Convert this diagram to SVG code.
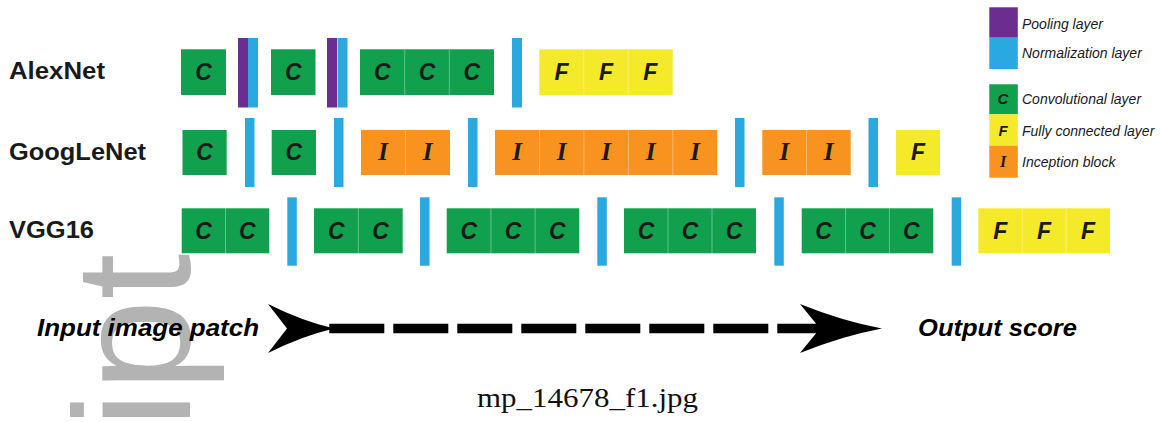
<svg xmlns="http://www.w3.org/2000/svg" width="1160" height="422" viewBox="0 0 1160 422">
<style>
.bg{fill:#ffffff}
.g{fill:#10a04e}
.y{fill:#f5ea2a}
.o{fill:#f7931e}
.b{fill:#29a9e0}
.p{fill:#6b2d8f}
.sep{stroke:#ffffff;stroke-opacity:0.35;stroke-width:1}
.lc{font-family:"Liberation Sans",Arial,sans-serif;font-weight:bold;font-style:italic;font-size:23px;fill:#1a1a1a;text-anchor:middle}
.li{font-family:"Liberation Serif","Times New Roman",serif;font-weight:bold;font-style:italic;font-size:25px;fill:#1a1a1a;text-anchor:middle}
.net{font-family:"Liberation Sans",Arial,sans-serif;font-weight:bold;font-size:24px;fill:#1a1a1a}
.io{font-family:"Liberation Sans",Arial,sans-serif;font-weight:bold;font-style:italic;font-size:24px;fill:#000}
.leg{font-family:"Liberation Sans",Arial,sans-serif;font-style:italic;font-size:14px;fill:#1a1a1a}
.legc{font-family:"Liberation Sans",Arial,sans-serif;font-weight:bold;font-style:italic;font-size:15px;fill:#1a1a1a;text-anchor:middle}
.legi{font-family:"Liberation Serif",serif;font-weight:bold;font-style:italic;font-size:16px;fill:#1a1a1a;text-anchor:middle}
.wm{font-family:"Liberation Sans",Arial,sans-serif;font-size:165px;fill:#b3b3b3}
.cap{font-family:"Liberation Serif","Times New Roman",serif;font-size:27px;fill:#111}
</style>
<rect class="bg" x="0" y="0" width="1160" height="422"/>
<text class="wm" transform="translate(190,428) rotate(-90)">ipt</text>

<g id="labels">
<text class="net" x="9" y="79" textLength="96" lengthAdjust="spacingAndGlyphs">AlexNet</text>
<text class="net" x="9" y="159.5" textLength="137" lengthAdjust="spacingAndGlyphs">GoogLeNet</text>
<text class="net" x="9" y="237.5" textLength="85" lengthAdjust="spacingAndGlyphs">VGG16</text>
</g>

<!-- AlexNet -->
<g id="alex-c1"><rect class="g" x="181" y="49.3" width="45" height="45.7"/><text class="lc" x="203.5" y="80">C</text></g>
<g id="alex-pn1"><rect class="p" x="238" y="38" width="10" height="69.5"/><rect class="b" x="248" y="38" width="10" height="69.5"/></g>
<g id="alex-c2"><rect class="g" x="271" y="49.3" width="44.5" height="45.7"/><text class="lc" x="293.2" y="80">C</text></g>
<g id="alex-pn2"><rect class="p" x="327" y="38" width="10" height="69.5"/><rect class="b" x="337.5" y="38" width="10" height="69.5"/></g>
<g id="alex-c3"><rect class="g" x="360" y="49.3" width="134" height="45.7"/><line class="sep" x1="404.7" y1="49.3" x2="404.7" y2="95"/><line class="sep" x1="449.3" y1="49.3" x2="449.3" y2="95"/><text class="lc" x="382.3" y="80">C</text><text class="lc" x="427" y="80">C</text><text class="lc" x="471.7" y="80">C</text></g>
<g id="alex-n3"><rect class="b" x="512" y="38" width="10" height="69.5"/></g>
<g id="alex-f"><rect class="y" x="539.3" y="49.3" width="133.4" height="45.7"/><line class="sep" x1="583.8" y1="49.3" x2="583.8" y2="95"/><line class="sep" x1="628.2" y1="49.3" x2="628.2" y2="95"/><text class="lc" x="561.5" y="80">F</text><text class="lc" x="606" y="80">F</text><text class="lc" x="650.4" y="80">F</text></g>

<!-- GoogLeNet -->
<g id="goog-c1"><rect class="g" x="182.5" y="130" width="44.2" height="45"/><text class="lc" x="204.6" y="160">C</text></g>
<g id="goog-n1"><rect class="b" x="245" y="118" width="9.5" height="69"/></g>
<g id="goog-c2"><rect class="g" x="271.7" y="130" width="44.3" height="45"/><text class="lc" x="293.8" y="160">C</text></g>
<g id="goog-n2"><rect class="b" x="334" y="118" width="9.5" height="69"/></g>
<g id="goog-i1"><rect class="o" x="361" y="130" width="89" height="45"/><line class="sep" x1="405.5" y1="130" x2="405.5" y2="175"/><text class="li" x="383.2" y="160">I</text><text class="li" x="427.7" y="160">I</text></g>
<g id="goog-n3"><rect class="b" x="468" y="118" width="9.5" height="69"/></g>
<g id="goog-i2"><rect class="o" x="495" y="130" width="222.3" height="45"/><line class="sep" x1="539.5" y1="130" x2="539.5" y2="175"/><line class="sep" x1="583.9" y1="130" x2="583.9" y2="175"/><line class="sep" x1="628.4" y1="130" x2="628.4" y2="175"/><line class="sep" x1="672.8" y1="130" x2="672.8" y2="175"/><text class="li" x="517.2" y="160">I</text><text class="li" x="561.7" y="160">I</text><text class="li" x="606.1" y="160">I</text><text class="li" x="650.6" y="160">I</text><text class="li" x="695" y="160">I</text></g>
<g id="goog-n4"><rect class="b" x="735" y="118" width="9.5" height="69"/></g>
<g id="goog-i3"><rect class="o" x="762.3" y="130" width="88.4" height="45"/><line class="sep" x1="806.5" y1="130" x2="806.5" y2="175"/><text class="li" x="784.4" y="160">I</text><text class="li" x="828.6" y="160">I</text></g>
<g id="goog-n5"><rect class="b" x="868.5" y="118" width="9.5" height="69"/></g>
<g id="goog-f"><rect class="y" x="896" y="130" width="44" height="45"/><text class="lc" x="918" y="160">F</text></g>

<!-- VGG16 -->
<g id="vgg-c1"><rect class="g" x="181.7" y="208.3" width="87.6" height="45"/><line class="sep" x1="225.5" y1="208.3" x2="225.5" y2="253.3"/><text class="lc" x="203.6" y="238.5">C</text><text class="lc" x="247.4" y="238.5">C</text></g>
<g id="vgg-n1"><rect class="b" x="287.3" y="197.3" width="9.5" height="68.4"/></g>
<g id="vgg-c2"><rect class="g" x="314" y="208.3" width="88.7" height="45"/><line class="sep" x1="358.3" y1="208.3" x2="358.3" y2="253.3"/><text class="lc" x="336.2" y="238.5">C</text><text class="lc" x="380.5" y="238.5">C</text></g>
<g id="vgg-n2"><rect class="b" x="420" y="197.3" width="9.5" height="68.4"/></g>
<g id="vgg-c3"><rect class="g" x="446.7" y="208.3" width="132.6" height="45"/><line class="sep" x1="490.9" y1="208.3" x2="490.9" y2="253.3"/><line class="sep" x1="535.1" y1="208.3" x2="535.1" y2="253.3"/><text class="lc" x="468.8" y="238.5">C</text><text class="lc" x="513" y="238.5">C</text><text class="lc" x="557.2" y="238.5">C</text></g>
<g id="vgg-n3"><rect class="b" x="597.3" y="197.3" width="9.5" height="68.4"/></g>
<g id="vgg-c4"><rect class="g" x="624" y="208.3" width="132" height="45"/><line class="sep" x1="668" y1="208.3" x2="668" y2="253.3"/><line class="sep" x1="712" y1="208.3" x2="712" y2="253.3"/><text class="lc" x="646" y="238.5">C</text><text class="lc" x="690" y="238.5">C</text><text class="lc" x="734" y="238.5">C</text></g>
<g id="vgg-n4"><rect class="b" x="774.3" y="197.3" width="9.5" height="68.4"/></g>
<g id="vgg-c5"><rect class="g" x="801.7" y="208.3" width="131.6" height="45"/><line class="sep" x1="845.6" y1="208.3" x2="845.6" y2="253.3"/><line class="sep" x1="889.4" y1="208.3" x2="889.4" y2="253.3"/><text class="lc" x="823.6" y="238.5">C</text><text class="lc" x="867.5" y="238.5">C</text><text class="lc" x="911.4" y="238.5">C</text></g>
<g id="vgg-n5"><rect class="b" x="951.7" y="197.3" width="9.5" height="68.4"/></g>
<g id="vgg-f"><rect class="y" x="978.3" y="208.3" width="131.7" height="45"/><line class="sep" x1="1022.2" y1="208.3" x2="1022.2" y2="253.3"/><line class="sep" x1="1066.1" y1="208.3" x2="1066.1" y2="253.3"/><text class="lc" x="1000.2" y="238.5">F</text><text class="lc" x="1044.1" y="238.5">F</text><text class="lc" x="1088" y="238.5">F</text></g>

<!-- Legend -->
<g id="legend">
<rect class="p" x="989.3" y="7.3" width="28.5" height="30.4"/>
<rect class="b" x="989.3" y="37.7" width="28.5" height="31.3"/>
<text class="leg" x="1022" y="28.5">Pooling layer</text>
<text class="leg" x="1022" y="58">Normalization layer</text>
<rect class="g" x="989.3" y="84.3" width="28.5" height="30"/>
<text class="legc" x="1003" y="104">C</text>
<text class="leg" x="1022" y="104">Convolutional layer</text>
<rect class="y" x="989.3" y="114.3" width="28.5" height="31.4"/>
<text class="legc" x="1003" y="135.5">F</text>
<text class="leg" x="1022" y="135.5">Fully connected layer</text>
<rect class="o" x="989.3" y="145.7" width="28.5" height="32"/>
<text class="legi" x="1003" y="167">I</text>
<text class="leg" x="1022" y="167">Inception block</text>
</g>

<!-- flow -->
<g id="connectors">
<line x1="329.3" y1="328.5" x2="820" y2="328.5" stroke="#000" stroke-width="9.5" stroke-dasharray="55 9"/>
<path d="M268,304 Q302,321 334,328.5 Q302,336 268,353 L287,328.5 Z" fill="#000"/>
<path d="M800,304 Q842,321 882,328.5 Q842,336 800,353 L820,328.5 Z" fill="#000"/>
</g>
<g id="io-labels">
<text class="io" x="37" y="336" textLength="222" lengthAdjust="spacingAndGlyphs">Input image patch</text>
<text class="io" x="918" y="336" textLength="159" lengthAdjust="spacingAndGlyphs">Output score</text>
</g>
<text class="cap" x="477" y="406.5" textLength="221" lengthAdjust="spacingAndGlyphs">mp_14678_f1.jpg</text>
</svg>
